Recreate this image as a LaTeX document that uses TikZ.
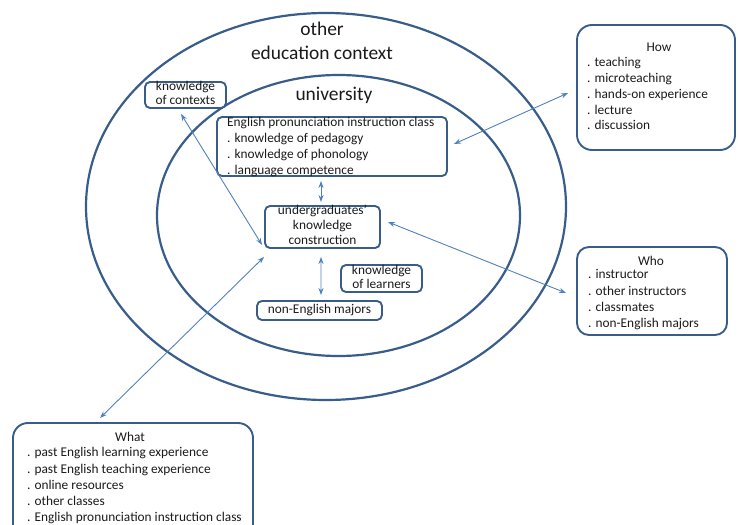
\documentclass[tikz,border=0pt]{standalone}
\usepackage{fontspec}
\setmainfont{Carlito}
\usetikzlibrary{arrows.meta}
\definecolor{outl}{HTML}{385D8A}
\definecolor{arrc}{HTML}{4F81BD}
\definecolor{txt}{HTML}{1A1A1A}
\tikzset{
  ring/.style={draw=outl, line width=2.2bp},
  boxs/.style={draw=outl, line width=1.9bp, rounded corners=5bp, inner sep=0pt},
  bigbox/.style={draw=outl, line width=1.9bp, rounded corners=15bp, inner sep=0pt},
  lbl/.style={text=txt, font=\fontsize{13.4}{15}\selectfont, inner sep=0pt, text height=1.5ex, text depth=.25ex},
  item/.style={lbl, anchor=west},
  ttl/.style={text=txt, font=\fontsize{19.5}{21}\selectfont, inner sep=0pt},
  arr/.style={draw=arrc, line width=0.9bp, {Stealth[length=7bp,width=5bp]}-{Stealth[length=7bp,width=5bp]}}
}
\begin{document}
\begin{tikzpicture}[x=1bp,y=-1bp]
\useasboundingbox (0,0) rectangle (738,525);
% ellipses
\draw[ring] (326,206.5) ellipse [x radius=240, y radius=193.5];
\draw[ring] (338.5,215.5) ellipse [x radius=181.5, y radius=140.5];
\node[ttl] (other) at (322,29) {other};
\node[ttl] (educ) at (322,53) {education context};
\node[ttl] (univ) at (334,95) {university};
% boxes inside
\node[boxs, minimum width=81bp, minimum height=26bp, fill=white] (kc) at (185.5,95) {};
\node[lbl] (kc1) at (185.5,88) {knowledge};
\node[lbl] (kc2) at (185.5,101.5) {of contexts};

\node[boxs, minimum width=230bp, minimum height=59bp] (epic) at (332,146.5) {};
\foreach \t [count=\i] in {English pronunciation instruction class, . knowledge of pedagogy, . knowledge of phonology, . language competence}
  \node[item] (epic\i) at (227,{124+15.7*(\i-1)}) {\t};

\node[boxs, minimum width=115bp, minimum height=42bp] (ukc) at (322.5,227) {};
\node[lbl] (ukc1) at (322.5,212) {undergraduates'};
\node[lbl] (ukc2) at (322.5,227) {knowledge};
\node[lbl] (ukc3) at (322.5,242) {construction};

\node[boxs, minimum width=81bp, minimum height=27bp] (kl) at (381.5,278.5) {};
\node[lbl] (kl1) at (381.5,272) {knowledge};
\node[lbl] (kl2) at (381.5,286) {of learners};

\node[boxs, minimum width=125bp, minimum height=19bp] (nem) at (319.5,310.5) {};
\node[lbl] (nem1) at (319.5,310.5) {non-English majors};

% outer boxes
\node[bigbox, minimum width=158bp, minimum height=125bp] (how) at (656,87.5) {};
\node[lbl] (howt) at (659,49) {How};
\foreach \t [count=\i] in {. teaching, . microteaching, . hands-on experience, . lecture, . discussion}
  \node[item] (how\i) at (587,{64+15.7*(\i-1)}) {\t};

\node[bigbox, rounded corners=12bp, minimum width=150bp, minimum height=88bp] (who) at (652,291) {};
\node[lbl] (whot) at (651,263) {Who};
\foreach \t [count=\i] in {. instructor, . other instructors, . classmates, . non-English majors}
  \node[item] (who\i) at (588,{276+16.3*(\i-1)}) {\t};

\node[bigbox, minimum width=240bp, minimum height=122bp] (what) at (133,484) {};
\node[lbl] (whatt) at (130,439) {What};
\foreach \t [count=\i] in {. past English learning experience, . past English teaching experience, . online resources, . other classes, . English pronunciation instruction class}
  \node[item] (what\i) at (27,{454+16.2*(\i-1)}) {\t};

% arrows
\draw[arr] ([shift={(6,-2.5)}]epic.east) -- ([shift={(-8,5.5)}]how.west);
\draw[arr] ([shift={(-4.5,5)}]kc.south) -- ([shift={(-2,-4)}]ukc.south west);
\draw[arr] ([shift={(-11,4)}]epic.south) -- ([shift={(-1.5,-3)}]ukc.north);
\draw[arr] ([shift={(-1.5,8)}]ukc.south) -- ([shift={(1.5,-5)}]nem.north);
\draw[arr] ([shift={(7,-5)}]ukc.east) -- ([shift={(-10,2)}]who.west);
\draw[arr] ([shift={(-33,-4)}]what.north) -- ([shift={(0,8)}]ukc.south west);
\end{tikzpicture}
\end{document}
